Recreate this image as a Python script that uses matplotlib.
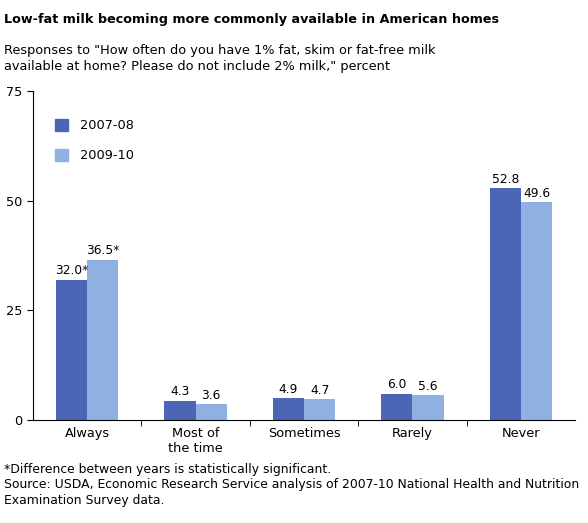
import numpy as np
import matplotlib.pyplot as plt
from matplotlib.patches import Patch

categories = ['Always', 'Most of\nthe time', 'Sometimes', 'Rarely', 'Never']
v0708 = [32.0, 4.3, 4.9, 6.0, 52.8]
v0910 = [36.5, 3.6, 4.7, 5.6, 49.6]
lab0708 = ['32.0*', '4.3', '4.9', '6.0', '52.8']
lab0910 = ['36.5*', '3.6', '4.7', '5.6', '49.6']

dark = '#4a66b4'
light = '#8fb1e2'

fig = plt.figure(figsize=(5.88, 5.23), dpi=100)
ax = fig.add_axes([0.056, 0.197, 0.922, 0.629])

x = np.arange(len(categories))
w = 0.288
ax.bar(x - w/2, v0708, w, color=dark)
ax.bar(x + w/2, v0910, w, color=light)
for i in range(len(x)):
    ax.text(x[i] - w/2, v0708[i] + 0.6, lab0708[i], ha='center', va='bottom', fontsize=8.8)
    ax.text(x[i] + w/2, v0910[i] + 0.6, lab0910[i], ha='center', va='bottom', fontsize=8.8)

ax.set_xlim(-0.5, 4.5)
ax.set_ylim(0, 75)
ax.set_yticks([0, 25, 50, 75])
ax.set_xticks(x)
ax.set_xticklabels(categories, fontsize=9.3)
ax.set_xticks(np.arange(0.5, 4.5, 1), minor=True)
ax.tick_params(axis='x', which='major', length=0, pad=5)
ax.tick_params(axis='x', which='minor', length=4)
ax.tick_params(axis='y', labelsize=9.3, length=4)
for s in ['top', 'right']:
    ax.spines[s].set_visible(False)

handles = [Patch(color=dark), Patch(color=light)]
ax.legend(handles, ['2007-08', '2009-10'], loc='upper left', bbox_to_anchor=(0.02, 0.95),
          frameon=False, fontsize=9.3, handlelength=1.0, handleheight=1.0,
          labelspacing=1.3, handletextpad=0.9)

fig.text(0.007, 0.975, 'Low-fat milk becoming more commonly available in American homes',
         fontsize=9.2, fontweight='bold', va='top')
fig.text(0.007, 0.915, 'Responses to "How often do you have 1% fat, skim or fat-free milk\navailable at home? Please do not include 2% milk," percent',
         fontsize=9.3, va='top', linespacing=1.25)
fig.text(0.007, 0.115, '*Difference between years is statistically significant.\n'
         'Source: USDA, Economic Research Service analysis of 2007-10 National Health and Nutrition\n'
         'Examination Survey data.', fontsize=8.9, va='top', linespacing=1.25)

fig.savefig('out.png', dpi=100)
